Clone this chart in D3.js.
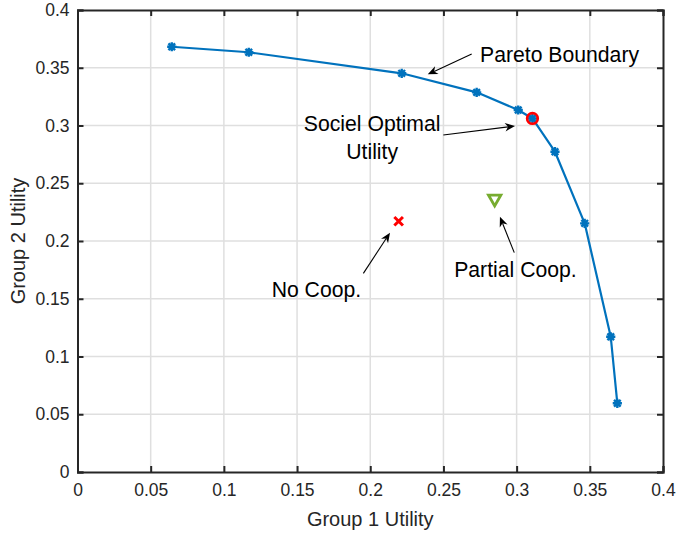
<!DOCTYPE html>
<html>
<head>
<meta charset="utf-8">
<script src="https://cdn.jsdelivr.net/npm/d3@7"></script>
<style>
  html, body { margin: 0; padding: 0; background: #fff; }
  svg { display: block; font-family: "Liberation Sans", Arial, Helvetica, sans-serif; }
</style>
</head>
<body>
<svg id="chart" width="676" height="533"></svg>
<script>
// Pareto boundary of the two-group utility trade-off
const paretoU1 = [0.0644, 0.1170, 0.2215, 0.2727, 0.3011, 0.3108, 0.3262, 0.3465, 0.3643, 0.3688];
const paretoU2 = [0.3682, 0.3634, 0.3452, 0.3287, 0.3134, 0.3061, 0.2773, 0.2153, 0.1171, 0.0595];

// Highlighted operating points
const socialOptimum = [0.3108, 0.3061];
const noCoop = [0.2194, 0.2171];
const partialCoop = [0.2850, 0.2355];

// Axis ticks
const xTicks = [0, 0.05, 0.1, 0.15, 0.2, 0.25, 0.3, 0.35, 0.4];
const yTicks = [0, 0.05, 0.1, 0.15, 0.2, 0.25, 0.3, 0.35, 0.4];
const xTickLabels = ["0", "0.05", "0.1", "0.15", "0.2", "0.25", "0.3", "0.35", "0.4"];
const yTickLabels = ["0", "0.05", "0.1", "0.15", "0.2", "0.25", "0.3", "0.35", "0.4"];

const xLabel = "Group 1 Utility";
const yLabel = "Group 2 Utility";

// Text annotations with arrows (data coordinates)
const annotations = [
  { lines: ["Pareto Boundary"], tx: 0.2750, ty: 0.3610, anchor: "start", from: [0.2693, 0.3619], to: [0.2393, 0.3443] },
  { lines: ["Sociel Optimal", "Utility"], tx: 0.2013, ty: 0.3013, anchor: "middle", from: [0.2499, 0.2918], to: [0.2989, 0.2996] },
  { lines: ["No Coop."], tx: 0.1632, ty: 0.1576, anchor: "middle", from: [0.1953, 0.1720], to: [0.2135, 0.2072] },
  { lines: ["Partial Coop."], tx: 0.2992, ty: 0.1755, anchor: "middle", from: [0.2984, 0.1899], to: [0.2886, 0.2210] }
];

const margin = { left: 77.5, right: 676 - 663, top: 10, bottom: 533 - 472 };
const W = 676, H = 533;
const svg = d3.select("#chart");

const x = d3.scaleLinear().domain([0, 0.4]).range([margin.left, W - margin.right]);
const y = d3.scaleLinear().domain([0, 0.4]).range([H - margin.bottom, margin.top]);

const axisColor = "#262626";
const gridColor = "#dfdfdf";
const lineBlue = "#0072BD";

// Grid
const grid = svg.append("g");
grid.selectAll("line.gx").data(xTicks.slice(1, -1)).join("line")
  .attr("x1", d => x(d)).attr("x2", d => x(d))
  .attr("y1", y(0)).attr("y2", y(0.4))
  .attr("stroke", gridColor).attr("stroke-width", 1.5);
grid.selectAll("line.gy").data(yTicks.slice(1, -1)).join("line")
  .attr("x1", x(0)).attr("x2", x(0.4))
  .attr("y1", d => y(d)).attr("y2", d => y(d))
  .attr("stroke", gridColor).attr("stroke-width", 1.5);

// Axes (ticks pointing inward on all four sides)
const tickLen = 6;
const bottomAxis = d3.axisBottom(x).tickValues(xTicks).tickSize(-tickLen).tickPadding(12)
  .tickFormat((d, i) => xTickLabels[i]);
const leftAxis = d3.axisLeft(y).tickValues(yTicks).tickSize(-tickLen).tickPadding(8)
  .tickFormat((d, i) => yTickLabels[i]);
const topAxis = d3.axisTop(x).tickValues(xTicks).tickSize(-tickLen).tickFormat("");
const rightAxis = d3.axisRight(y).tickValues(yTicks).tickSize(-tickLen).tickFormat("");

function styleAxis(g) {
  g.select(".domain").attr("stroke", axisColor).attr("stroke-width", 2);
  g.selectAll(".tick line").attr("stroke", axisColor).attr("stroke-width", 2);
  g.selectAll(".tick text").attr("fill", "#262626").style("font-size", "17.5px")
    .style("font-family", "'Liberation Sans', Arial, sans-serif");
}

svg.append("g").attr("transform", `translate(0,${y(0)})`).call(bottomAxis).call(styleAxis)
  .selectAll(".tick text").attr("dy", "0.71em");
svg.append("g").attr("transform", `translate(${x(0)},0)`).call(leftAxis).call(styleAxis);
svg.append("g").attr("transform", `translate(0,${y(0.4)})`).call(topAxis).call(styleAxis);
svg.append("g").attr("transform", `translate(${x(0.4)},0)`).call(rightAxis).call(styleAxis);

// Axis labels
svg.append("text")
  .attr("x", (x(0) + x(0.4)) / 2).attr("y", 519)
  .attr("text-anchor", "middle").attr("dominant-baseline", "central")
  .attr("fill", "#262626").style("font-size", "20px")
  .text(xLabel);
svg.append("text")
  .attr("transform", `translate(18,${(y(0) + y(0.4)) / 2}) rotate(-90)`)
  .attr("text-anchor", "middle").attr("dominant-baseline", "central")
  .attr("fill", "#262626").style("font-size", "20px")
  .text(yLabel);

// Pareto boundary line
const pts = paretoU1.map((u, i) => [u, paretoU2[i]]);
svg.append("path")
  .datum(pts)
  .attr("d", d3.line().x(d => x(d[0])).y(d => y(d[1])))
  .attr("fill", "none").attr("stroke", lineBlue).attr("stroke-width", 2.2)
  .attr("stroke-linejoin", "round");

// Asterisk markers
const r = 4.6;
const asterisk = `M${-r},0H${r}M0,${-r}V${r}M${-r * 0.72},${-r * 0.72}L${r * 0.72},${r * 0.72}M${-r * 0.72},${r * 0.72}L${r * 0.72},${-r * 0.72}`;
svg.append("g").selectAll("path").data(pts).join("path")
  .attr("transform", d => `translate(${x(d[0])},${y(d[1])})`)
  .attr("d", asterisk)
  .attr("fill", "none").attr("stroke", lineBlue).attr("stroke-width", 2.4);

// Social optimum circle
svg.append("circle")
  .attr("cx", x(socialOptimum[0])).attr("cy", y(socialOptimum[1])).attr("r", 5.3)
  .attr("fill", "none").attr("stroke", "#ff0000").attr("stroke-width", 2.7);

// No cooperation cross
const c = 4.3;
svg.append("path")
  .attr("transform", `translate(${x(noCoop[0])},${y(noCoop[1])})`)
  .attr("d", `M${-c},${-c}L${c},${c}M${-c},${c}L${c},${-c}`)
  .attr("stroke", "#ff0000").attr("stroke-width", 3).attr("fill", "none");

// Partial cooperation triangle (pointing down)
const t = 6.2;
svg.append("path")
  .attr("transform", `translate(${x(partialCoop[0])},${y(partialCoop[1])})`)
  .attr("d", `M${-t},${-t * 0.8}L${t},${-t * 0.8}L0,${t * 0.95}Z`)
  .attr("stroke", "#77AC30").attr("stroke-width", 2.8).attr("fill", "none")
  .attr("stroke-linejoin", "miter");

// Annotations
const ann = svg.append("g");
annotations.forEach(a => {
  const txt = ann.append("text")
    .attr("x", x(a.tx)).attr("y", y(a.ty))
    .attr("text-anchor", a.anchor)
    .attr("fill", "#000").style("font-size", "21.2px");
  a.lines.forEach((l, i) => {
    txt.append("tspan").attr("x", x(a.tx)).attr("dy", i === 0 ? "0.35em" : "1.3em").text(l);
  });
  const x1 = x(a.from[0]), y1 = y(a.from[1]), x2 = x(a.to[0]), y2 = y(a.to[1]);
  const ang = Math.atan2(y2 - y1, x2 - x1);
  const hl = 10, hw = 4.2, back = 7;
  // shaft ends inside the head
  ann.append("line")
    .attr("x1", x1).attr("y1", y1)
    .attr("x2", x2 - back * Math.cos(ang)).attr("y2", y2 - back * Math.sin(ang))
    .attr("stroke", "#000").attr("stroke-width", 1.1);
  const head = `M0,0L${-hl},${-hw}L${-back},0L${-hl},${hw}Z`;
  ann.append("path")
    .attr("transform", `translate(${x2},${y2}) rotate(${ang * 180 / Math.PI})`)
    .attr("d", head).attr("fill", "#000");
});
</script>
</body>
</html>
